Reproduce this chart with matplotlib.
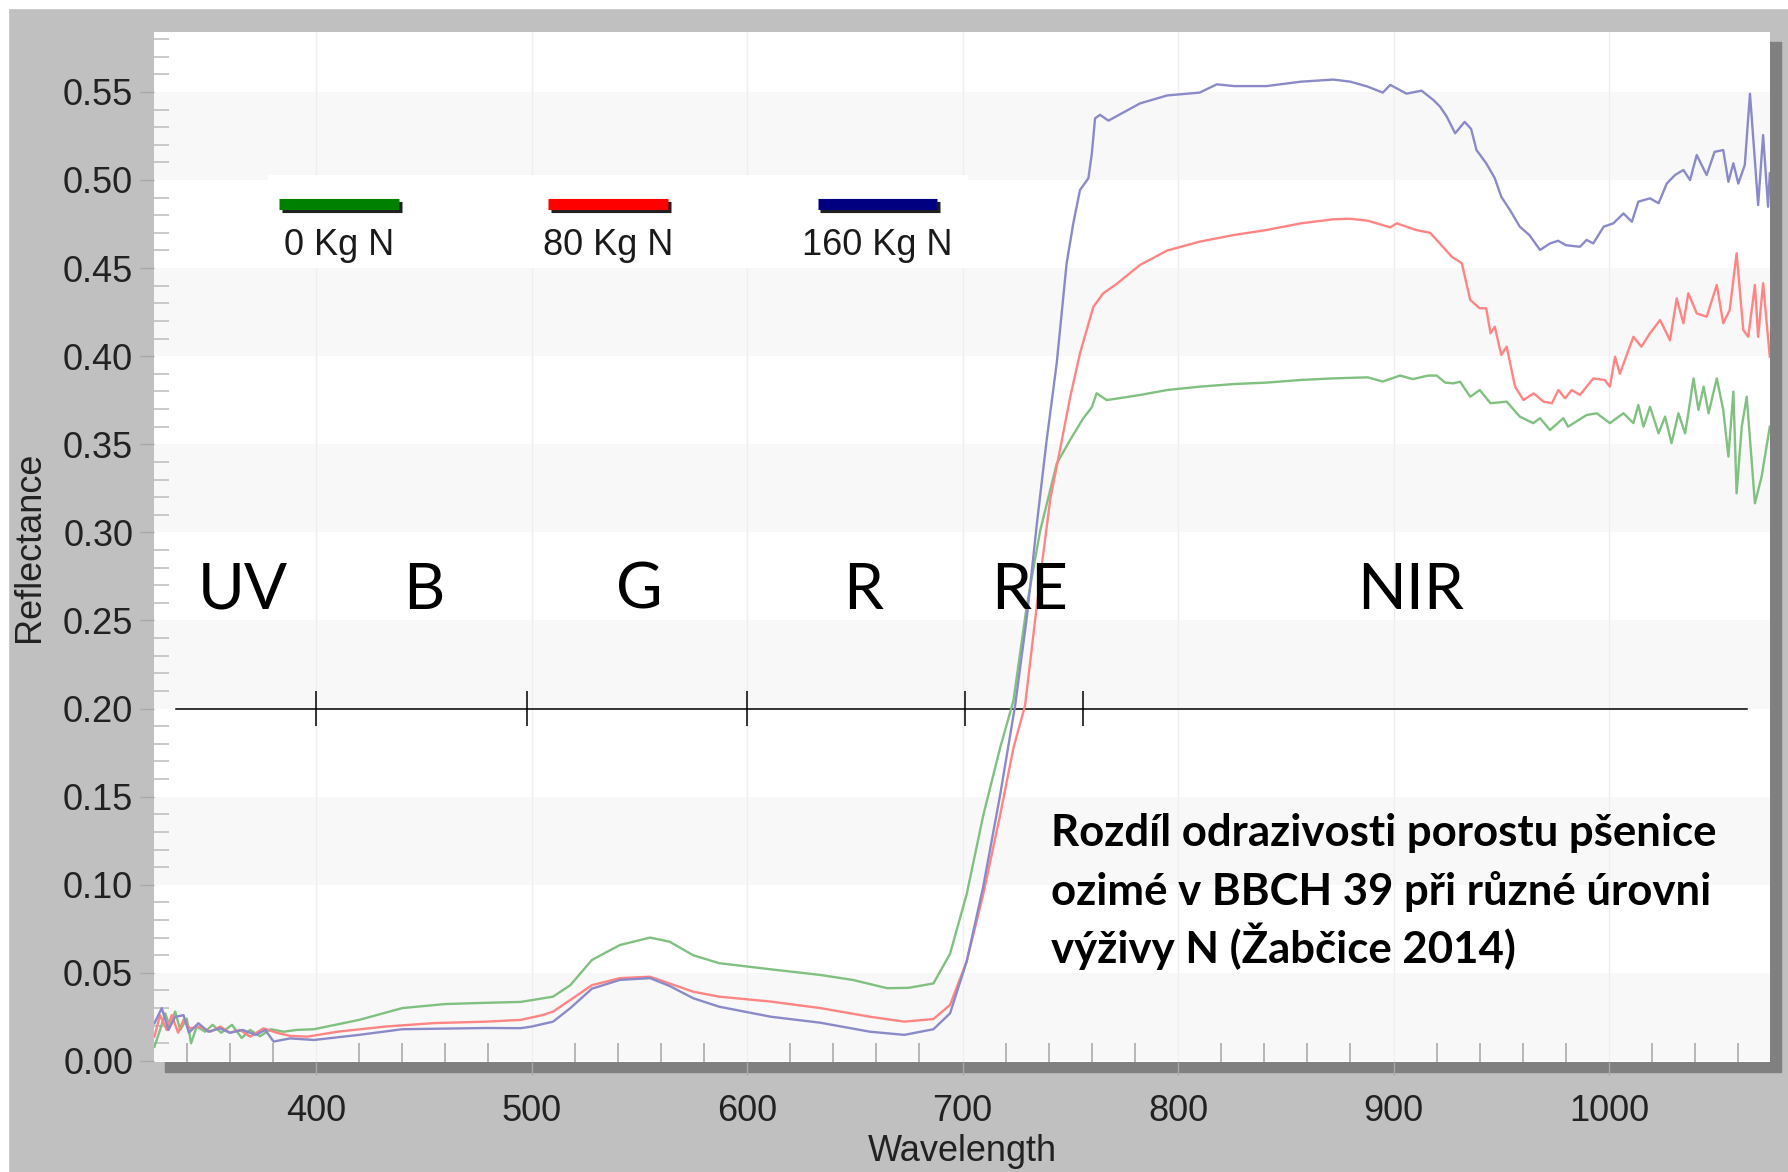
import matplotlib
matplotlib.use("Agg")
import matplotlib.pyplot as plt
import matplotlib.patheffects as pe
from matplotlib.patches import Rectangle
from matplotlib.ticker import MultipleLocator, FormatStrFormatter
import numpy as np

# ---- data ----
series_labels = ["0 Kg N", "80 Kg N", "160 Kg N"]
legend_colors = ["#008000", "#ff0000", "#000080"]
curve_colors = ["#80c080", "#ff8484", "#8a8ac8"]

wl_0n = [325, 327.6, 330, 332, 334.6, 337, 340, 342, 344.6, 348.5, 352, 356, 361, 365.5,
         369.4, 374, 379, 385, 391, 399, 420, 440, 460, 479, 495, 510, 518, 528, 541, 555,
         564, 575, 587, 611, 634, 649, 665, 675, 686.5, 694.2, 701.9, 709.6, 717.4, 723.6,
         729.8, 736, 743.7, 749.9, 756, 760, 762.2, 766.9, 772, 782.4, 795, 810, 826, 841,
         857, 872, 888, 895, 903, 909, 916, 920, 924, 927.8, 930.9, 935.6, 940, 945, 952.5,
         958.6, 964.8, 968, 972.6, 978.8, 981, 989.6, 994.3, 1000.4, 1006.7, 1011.3, 1013.6,
         1016, 1019, 1023, 1026, 1029, 1032.2, 1035.3, 1036.8, 1039.2, 1041.5, 1043.9, 1046.2,
         1050, 1053, 1055.4, 1057.7, 1059.2, 1061.6, 1063.9, 1067.7, 1070.8, 1074.6]
refl_0n = [0.008, 0.0176, 0.027, 0.020, 0.028, 0.0176, 0.024, 0.010, 0.0195, 0.0166, 0.0205,
           0.016, 0.0205, 0.013, 0.0176, 0.014, 0.018, 0.0166, 0.0176, 0.018, 0.0233, 0.030,
           0.0323, 0.033, 0.0335, 0.0365, 0.043, 0.0573, 0.0658, 0.070, 0.0677, 0.060, 0.0555,
           0.052, 0.0488, 0.046, 0.0413, 0.0415, 0.044, 0.0608, 0.0945, 0.1393, 0.1775, 0.2044,
           0.2582, 0.3008, 0.339, 0.3524, 0.3647, 0.371, 0.379, 0.3751, 0.376, 0.378, 0.3808,
           0.3827, 0.3842, 0.385, 0.3865, 0.3874, 0.388, 0.3856, 0.389, 0.387, 0.389, 0.389,
           0.385, 0.3846, 0.3855, 0.377, 0.3808, 0.3733, 0.3742, 0.3657, 0.362, 0.3648, 0.3581,
           0.3648, 0.360, 0.3666, 0.3676, 0.362, 0.3676, 0.362, 0.3723, 0.360, 0.3713, 0.3562,
           0.3657, 0.3506, 0.3676, 0.3562, 0.3676, 0.3874, 0.3695, 0.3827, 0.3676, 0.3874,
           0.3695, 0.343, 0.3799, 0.3222, 0.360, 0.377, 0.3165, 0.3316, 0.360]

wl_80n = [325, 327.6, 330.7, 333, 336, 338.5, 341.5, 346, 351, 355.5, 360, 364.7, 369.4, 375.6,
          381.8, 388, 396, 410, 432, 455, 479, 495, 505, 510, 518, 528, 541, 555, 564, 575,
          587, 611, 634, 657, 673, 686.5, 694.2, 701.9, 709.6, 717.4, 723.6, 729, 732.7, 736,
          740.7, 745.2, 750, 754.5, 760.7, 765.3, 771.5, 782.4, 795, 810, 826, 841, 857, 872,
          880, 888, 898.5, 901.5, 910.5, 917, 920, 927, 931.7, 935.6, 940, 943, 945, 947, 950,
          952.5, 956.4, 960.3, 965, 969.6, 973.5, 976.5, 979.6, 982.7, 986.5, 992.7, 998,
          1000.4, 1002.8, 1005, 1011.3, 1015, 1019, 1023.7, 1028.3, 1031.4, 1034.5, 1036.8,
          1040.7, 1045.3, 1050, 1053, 1056, 1059.2, 1062.3, 1064.6, 1067.7, 1069.2, 1071.5,
          1074.6]
refl_80n = [0.0138, 0.026, 0.0176, 0.026, 0.016, 0.0233, 0.0185, 0.0195, 0.0166, 0.0195, 0.016,
            0.0176, 0.0138, 0.0185, 0.016, 0.0142, 0.0138, 0.0166, 0.0195, 0.0215, 0.0223,
            0.0233, 0.026, 0.028, 0.0346, 0.043, 0.047, 0.0478, 0.044, 0.0393, 0.0365, 0.0337,
            0.030, 0.0251, 0.0223, 0.0238, 0.0318, 0.0564, 0.0945, 0.1393, 0.1775, 0.2017,
            0.240, 0.274, 0.3188, 0.3468, 0.377, 0.4016, 0.428, 0.4357, 0.441, 0.4518, 0.460,
            0.465, 0.4688, 0.4716, 0.4754, 0.4777, 0.478, 0.4769, 0.4731, 0.4754, 0.4716, 0.470,
            0.466, 0.4565, 0.4527, 0.4319, 0.4272, 0.4272, 0.413, 0.4167, 0.4007, 0.4054,
            0.3827, 0.3751, 0.3789, 0.3742, 0.3733, 0.3808, 0.3761, 0.3808, 0.378, 0.3874,
            0.3865, 0.3827, 0.3997, 0.390, 0.411, 0.4054, 0.413, 0.4205, 0.409, 0.4328, 0.4187,
            0.4357, 0.4243, 0.4224, 0.4404, 0.4187, 0.4262, 0.4584, 0.4149, 0.411, 0.4404,
            0.411, 0.4414, 0.3997]

wl_160n = [325, 328.4, 331.5, 334.6, 338.5, 341, 345.4, 350, 355.5, 360, 366, 372, 376.4, 380.3,
           388, 399, 420, 440, 479, 495, 500, 510, 518, 528, 541, 555, 564, 575, 587, 611, 634,
           657, 673, 686.5, 694.2, 701.9, 709.6, 717.4, 724.4, 729.8, 734.5, 739, 743.7, 748.3,
           751.4, 754.5, 758.4, 760, 761.5, 763.8, 767.7, 782.4, 795, 810, 818, 826, 841, 857,
           872, 880, 888, 895, 898.5, 906, 913, 918.5, 921.6, 924.7, 928.6, 933, 936, 938.5,
           943, 947, 950, 954, 958.6, 963, 968, 972.6, 976.4, 980, 986.5, 989.6, 992.7, 997.5,
           1002, 1006.7, 1010.6, 1013.6, 1019, 1023, 1026.8, 1030.6, 1034.5, 1037.6, 1040.7,
           1043, 1045.3, 1049, 1053, 1055.4, 1057.7, 1060, 1063, 1065.4, 1069.2, 1071.5,
           1073.8, 1074.6]
refl_160n = [0.0214, 0.030, 0.0176, 0.025, 0.026, 0.016, 0.0214, 0.0166, 0.0185, 0.016, 0.0176,
             0.0148, 0.0176, 0.011, 0.0128, 0.0119, 0.0148, 0.018, 0.0187, 0.0186, 0.0195,
             0.0223, 0.030, 0.041, 0.046, 0.047, 0.0426, 0.0356, 0.0308, 0.0251, 0.0217,
             0.0166, 0.0148, 0.018, 0.027, 0.0564, 0.099, 0.1506, 0.2017, 0.2515, 0.305,
             0.352, 0.396, 0.4527, 0.4754, 0.4943, 0.501, 0.515, 0.535, 0.537, 0.5337, 0.5435,
             0.548, 0.5496, 0.5543, 0.5533, 0.5533, 0.5558, 0.557, 0.5558, 0.553, 0.5496,
             0.554, 0.549, 0.5507, 0.5454, 0.5416, 0.536, 0.5265, 0.533, 0.529, 0.517, 0.5095,
             0.501, 0.4905, 0.483, 0.4735, 0.4688, 0.4603, 0.464, 0.4655, 0.463, 0.4621, 0.466,
             0.464, 0.4735, 0.4754, 0.481, 0.4763, 0.4877, 0.4896, 0.4868, 0.498, 0.5028,
             0.5057, 0.500, 0.5142, 0.5085, 0.5028, 0.516, 0.517, 0.499, 0.5095, 0.498, 0.5085,
             0.549, 0.4858, 0.5255, 0.4848, 0.5038]

# spectral regions marked on the 0.20 line
band_line_range = [335, 1064]
band_edges = [400, 498, 600, 701, 756]
band_names = ["UV", "B", "G", "R", "RE", "NIR"]
band_label_x = [366, 450, 550, 654, 731, 908]

note_lines = ["Rozdíl odrazivosti porostu pšenice",
              "ozimé v BBCH 39 při různé úrovni",
              "výživy N (Žabčice 2014)"]

# ---- figure ----
plt.rcParams["font.family"] = ["Liberation Sans", "DejaVu Sans"]
calibri_like = ["Lato", "DejaVu Sans"]

W, H = 1788, 1172
fig = plt.figure(figsize=(W / 100, H / 100), dpi=100, facecolor="#c0c0c0")

# thin white margin on top/left and the drop shadow of the plot panel
fig.add_artist(Rectangle((0, 1 - 8 / H), 1, 8 / H, transform=fig.transFigure,
                         color="white", zorder=-2))
fig.add_artist(Rectangle((0, 0), 8 / W, 1, transform=fig.transFigure,
                         color="white", zorder=-2))
fig.add_artist(Rectangle((165 / W, 1 - 1072 / H), 1616 / W, 1030 / H,
                         transform=fig.transFigure, color="#808080", zorder=-1))

ax = fig.add_axes([154 / W, 1 - 1062 / H, 1616 / W, 1030 / H])
ax.set_facecolor("white")
for s in ax.spines.values():
    s.set_visible(False)

ax.set_xlim(324.8, 1074.7)
ax.set_ylim(-0.0006, 0.584)

# alternating light bands + faint vertical grid
for lo in np.arange(0, 0.55, 0.10):
    ax.axhspan(lo, lo + 0.05, color="#f8f8f8", lw=0, zorder=0)
ax.set_axisbelow(True)
ax.xaxis.grid(True, color="#eeeeee", lw=1)

ax.set_xticks(np.arange(400, 1001, 100))
ax.xaxis.set_minor_locator(MultipleLocator(20))
ax.set_yticks(np.arange(0, 0.551, 0.05))
ax.yaxis.set_minor_locator(MultipleLocator(0.01))
ax.yaxis.set_major_formatter(FormatStrFormatter("%.2f"))

ax.tick_params(axis="x", which="major", direction="out", length=9, width=1,
               color="#a8a8a8", pad=14, labelsize=26, labelcolor="#222222")
ax.tick_params(axis="x", which="minor", direction="in", length=14, width=1.3,
               color="#b0b0b0")
ax.tick_params(axis="y", which="major", direction="out", length=10, width=1,
               color="#a8a8a8", pad=5, labelsize=26, labelcolor="#222222")
ax.tick_params(axis="y", which="minor", direction="in", length=11, width=1.2,
               color="#c0c0c0")

ax.set_xlabel("Wavelength", fontsize=26, color="#222222")
ax.xaxis.set_label_coords(0.5, -0.07)
ax.set_ylabel("Reflectance", fontsize=26, color="#222222")
ax.yaxis.set_label_coords(-0.066, 0.5)

# spectra
for wl, refl, c in [(wl_0n, refl_0n, curve_colors[0]),
                    (wl_80n, refl_80n, curve_colors[1]),
                    (wl_160n, refl_160n, curve_colors[2])]:
    ax.plot(wl, refl, color=c, lw=1.7, zorder=4)

# region bar
ax.plot(band_line_range, [0.20, 0.20], color="black", lw=1.1, zorder=3)
ax.vlines(band_edges, 0.19, 0.21, color="black", lw=1.1, zorder=3)
for name, x in zip(band_names, band_label_x):
    ax.text(x, 0.267, name, ha="center", va="center", fontsize=46,
            family=calibri_like, zorder=5)

# note text
for i, line in enumerate(note_lines):
    ax.text(741, 0.122 - i * 0.0333, line, fontsize=31.5, fontweight="bold",
            family=calibri_like, va="baseline", ha="left", zorder=5)

# legend: coloured bars with the label underneath
ax.add_patch(Rectangle((0.0705, 0.771), 0.4335, 0.09, transform=ax.transAxes,
                       fc="white", ec="none", zorder=6))
for i, (lab, c) in enumerate(zip(series_labels, legend_colors)):
    cx = 0.1145 + i * 0.1666
    ax.plot([cx - 0.037, cx + 0.037], [0.833, 0.833], transform=ax.transAxes,
            color=c, lw=8, solid_capstyle="butt", zorder=7,
            path_effects=[pe.SimpleLineShadow(offset=(2, -2), shadow_color="#202020", alpha=1),
                          pe.Normal()])
    ax.text(cx, 0.793, lab, transform=ax.transAxes, ha="center", va="center",
            fontsize=26, color="#1a1a1a", zorder=7)

fig.savefig("out.png", dpi=100, facecolor=fig.get_facecolor())
